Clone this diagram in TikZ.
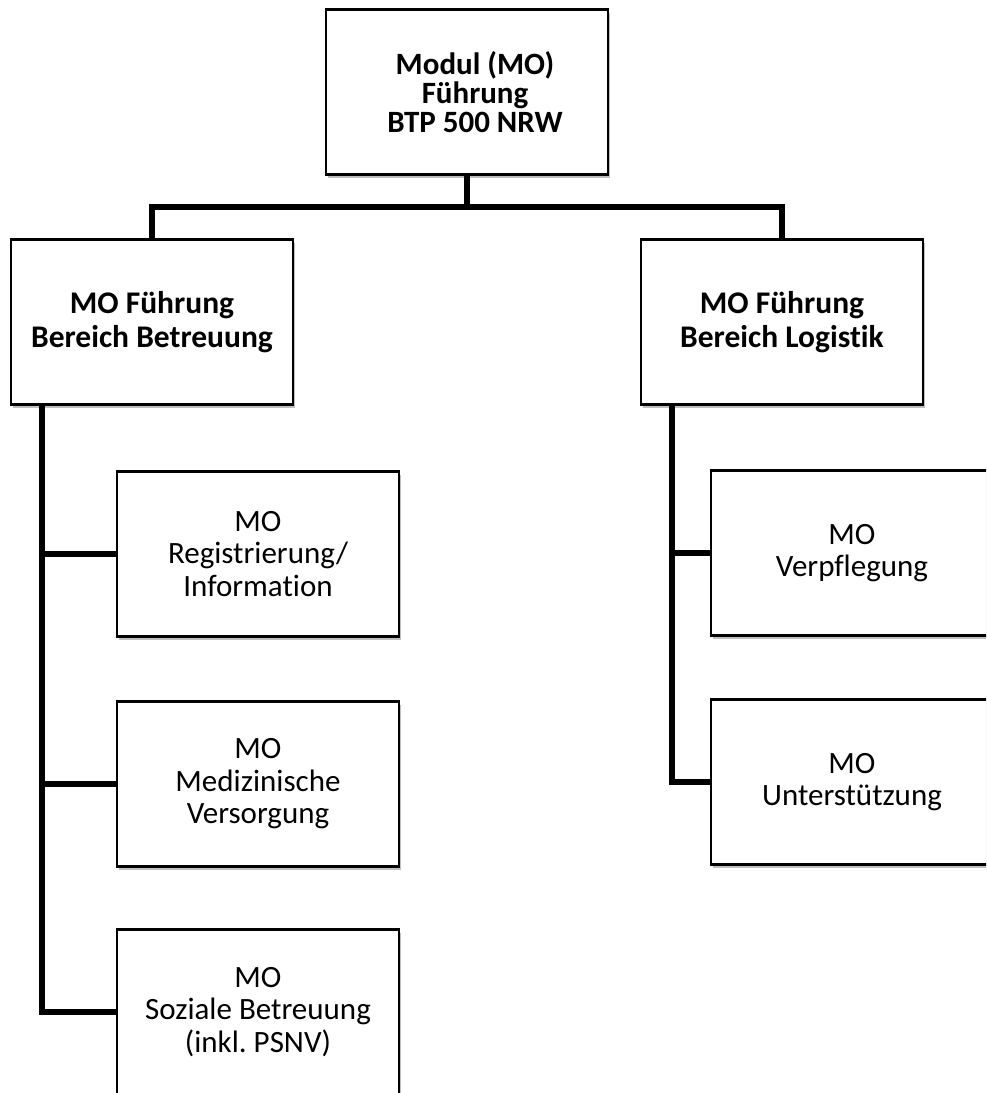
\documentclass[tikz,border=0pt]{standalone}
\usepackage{fontspec}
\setmainfont{Carlito}[Ligatures=NoCommon]
\usetikzlibrary{shadows}
\frenchspacing

\begin{document}
\begin{tikzpicture}[x=1pt,y=-1pt]
			\tikzstyle{unit} = [rectangle,fill=white,draw=black,line width=2.2pt,minimum width=282pt,minimum height=165pt,align=center,drop shadow={shadow xshift=2pt,shadow yshift=-3pt,opacity=0.25,fill=black}]
			\tikzstyle{lead} = [unit,font=\fontsize{31}{29}\selectfont\bfseries]
			\tikzstyle{head} = [unit,font=\fontsize{31.5}{34}\selectfont\bfseries]
			\tikzstyle{sub} = [unit,font=\fontsize{31}{32.5}\selectfont]
			\tikzstyle{edge} = [-,line width=6.5pt]
			\useasboundingbox (0,0) rectangle (986,1093);
			\clip (0,0) rectangle (986,1093);
			% Leitung oben
			\node[lead] (mo) at (467,92) {\hspace*{16pt}Modul (MO)\\\hspace*{16pt}Führung\\\hspace*{16pt}BTP 500 NRW};
			% Bereiche
			\node[head] (bet) at (152,322) {MO Führung\\Bereich Betreuung};
			\node[head] (log) at (782,322) {MO Führung\\Bereich Logistik};
			% Module Betreuung
			\node[sub] (reg) at (258,554) {MO\\Registrierung/\\Information};
			\node[sub] (med) at (258,784) {MO\\Medizinische\\Versorgung};
			\node[sub] (soz) at (258,1012) {MO\\Soziale Betreuung\\(inkl. PSNV)};
			% Module Logistik
			\node[sub] (ver) at (852,553) {MO\\Verpflegung};
			\node[sub] (unt) at (852,782) {MO\\Unterstützung};
			% Verbindungen
			\coordinate (bar) at (467,207);
			\coordinate (lt) at (42,405);
			\coordinate (rt) at (672,405);
			\draw[edge] (mo)--(bar);
			\draw[edge] (bet.north) |- (bar) -| (log.north);
			\draw[edge] (lt) |- (soz.west);
			\draw[edge] (reg.west)--(reg.west -| lt);
			\draw[edge] (med.west)--(med.west -| lt);
			\draw[edge] (rt) |- (unt.west);
			\draw[edge] (ver.west)--(ver.west -| rt);
			\end{tikzpicture}
\end{document}
